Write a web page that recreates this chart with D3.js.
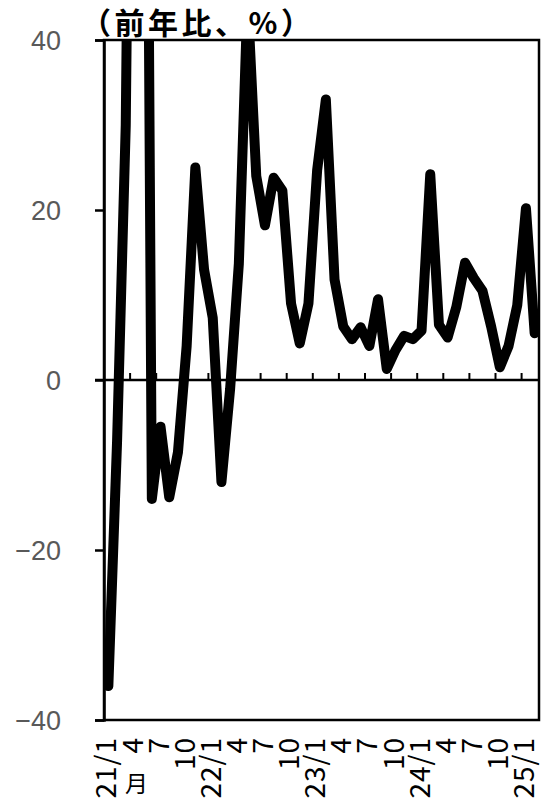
<!DOCTYPE html>
<html><head><meta charset="utf-8">
<script src="https://cdn.jsdelivr.net/npm/d3@7/dist/d3.min.js"></script>
<style>body{margin:0;background:#fff}svg{display:block}</style>
</head><body>
<svg id="chart" width="541" height="801"></svg>
<script>
// ---- data ----
const months = [
  "21/1","21/2","21/3","21/4","21/5","21/6","21/7","21/8","21/9","21/10","21/11","21/12",
  "22/1","22/2","22/3","22/4","22/5","22/6","22/7","22/8","22/9","22/10","22/11","22/12",
  "23/1","23/2","23/3","23/4","23/5","23/6","23/7","23/8","23/9","23/10","23/11","23/12",
  "24/1","24/2","24/3","24/4","24/5","24/6","24/7","24/8","24/9","24/10","24/11","24/12",
  "25/1","25/2"
];
const values = [
  -36, -7.3, 30, 130, 150, -14, -5.5, -13.8, -8.5, 4, 25, 13,
  7.3, -12, -1, 13.7, 45, 24, 18.2, 23.8, 22.3, 9, 4.3, 9,
  24.7, 33, 11.8, 6.3, 4.8, 6.2, 4.0, 9.5, 1.3, 3.5, 5.2, 4.8,
  5.8, 24.2, 6.5, 5.0, 8.6, 13.8, 12, 10.5, 6.3, 1.5, 4.0, 8.8,
  20.2, 5.5
];
const xTickMonths = ["21/1","21/4","21/7","21/10","22/1","22/4","22/7","22/10","23/1","23/4","23/7","23/10","24/1","24/4","24/7","24/10","25/1"];
const xTickLabels = ["21/1","4","7","10","22/1","4","7","10","23/1","4","7","10","24/1","4","7","10","25/1"];
const yTicks = [-40, -20, 0, 20, 40];
const yTickLabels = ["\u221240", "\u221220", "0", "20", "40"];
const titleText = "（前年比、%）";
const unitText = "月";

// ---- layout ----
const svg = d3.select("#chart");
const L = 104, R = 539, T = 40, B = 720;

const x = d3.scaleBand().domain(months).range([L, R]).padding(0);
const y = d3.scaleLinear().domain([-40, 40]).range([B, T]);
const cx = m => x(m) + x.bandwidth() / 2;

svg.append("defs").append("clipPath").attr("id", "plotclip")
  .append("rect").attr("x", L).attr("y", T).attr("width", R - L).attr("height", B - T);

// data line
const line = d3.line().x((d, i) => cx(months[i])).y(d => y(d));
svg.append("path")
  .datum(values)
  .attr("clip-path", "url(#plotclip)")
  .attr("fill", "none")
  .attr("stroke", "#000")
  .attr("stroke-width", 10)
  .attr("stroke-linejoin", "round")
  .attr("stroke-linecap", "round")
  .attr("d", line);

// frame
svg.append("rect").attr("x", L).attr("y", T).attr("width", R - L).attr("height", B - T)
  .attr("fill", "none").attr("stroke", "#000").attr("stroke-width", 2.5);

// y axis ticks + labels
const yAxis = d3.axisLeft(y).tickValues(yTicks).tickSize(9).tickFormat((d, i) => yTickLabels[i]);
const yg = svg.append("g").attr("transform", `translate(${L},0)`).call(yAxis);
yg.select(".domain").attr("stroke", "#000").attr("stroke-width", 2.5);
yg.selectAll(".tick line").attr("stroke", "#000").attr("stroke-width", 2.5);
yg.selectAll(".tick text")
  .attr("x", -43)
  .attr("dy", "0.36em")
  .attr("fill", "#595959")
  .style("font-family", "'Liberation Sans', Arial, sans-serif")
  .style("font-size", "27px");

// zero line with inside quarter ticks
svg.append("line").attr("x1", L - 9).attr("x2", R).attr("y1", y(0)).attr("y2", y(0))
  .attr("stroke", "#000").attr("stroke-width", 2.5);
svg.append("g").selectAll("line").data(xTickMonths.slice(1)).join("line")
  .attr("x1", d => x(d)).attr("x2", d => x(d))
  .attr("y1", y(0)).attr("y2", y(0) - 7)
  .attr("stroke", "#000").attr("stroke-width", 2);

// x labels (rotated)
svg.append("g").selectAll("text").data(xTickMonths).join("text")
  .attr("transform", d => `translate(${cx(d) - 2},737) rotate(-90)`)
  .attr("text-anchor", "end")
  .attr("dy", "0.36em")
  .attr("fill", "#000")
  .style("font-family", "'Noto Sans CJK JP', sans-serif")
  .style("font-size", "28px")
  .style("letter-spacing", "1px")
  .text((d, i) => xTickLabels[i]);

// unit "月"
svg.append("text")
  .attr("x", cx("21/4") + 2).attr("y", 792)
  .attr("text-anchor", "middle")
  .attr("fill", "#000")
  .style("font-family", "'Noto Sans CJK JP', sans-serif")
  .style("font-size", "23px")
  .text(unitText);

// title
svg.append("text")
  .attr("x", 81).attr("y", 34)
  .attr("fill", "#000")
  .style("font-family", "'Noto Sans CJK JP', sans-serif")
  .style("font-size", "30px")
  .style("font-weight", "bold")
  .style("letter-spacing", "3.5px")
  .text(titleText);
</script>
</body></html>
